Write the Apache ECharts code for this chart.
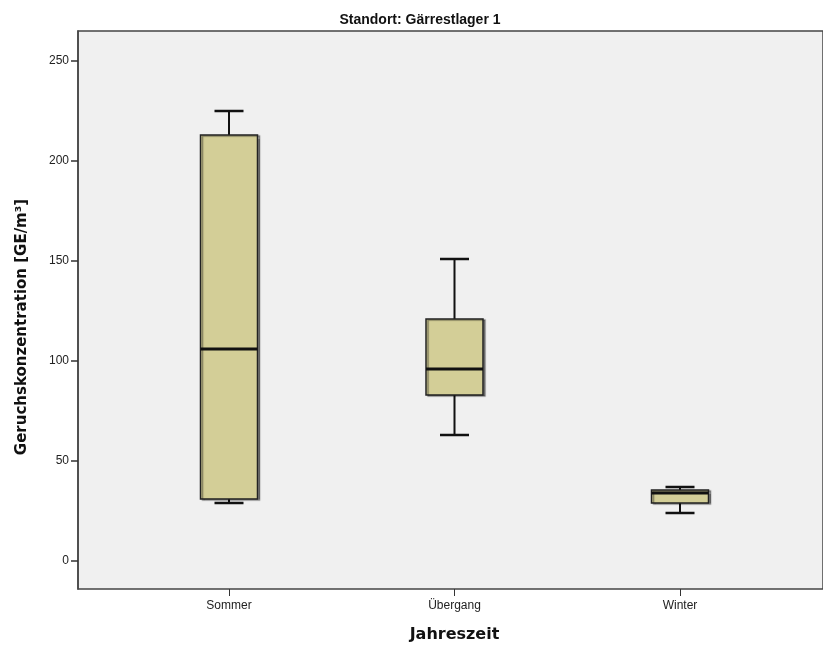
<!DOCTYPE html>
<html>
<head>
<meta charset="utf-8">
<script src="https://cdn.jsdelivr.net/npm/echarts@6/dist/echarts.min.js"></script>
<style>
  html, body { margin: 0; padding: 0; background: #ffffff; }
  #chart { width: 823px; height: 655px; }
</style>
</head>
<body>
<div id="chart"></div>
<script>
// Jahreszeiten (Kategorien)
const seasons = ['Sommer', 'Übergang', 'Winter'];
// Boxplot-Kennwerte je Jahreszeit: Minimum, Q1, Median, Q3, Maximum [GE/m³]
const sommer    = [29, 31, 106, 213, 225];
const uebergang = [63, 83, 96, 121, 151];
const winter    = [24, 29, 34, 35.5, 37];
// Beschriftete Werte der y-Achse
const yTicks = [0, 50, 100, 150, 200, 250];

const boxData = [sommer, uebergang, winter].map((d, i) => [i].concat(d));

const Y_MIN = -14, Y_MAX = 265;
const FONT = '"Liberation Sans", Arial, sans-serif';
const BOX_W = 57, CAP_W = 29;

function renderBox(params, api) {
  const i = api.value(0);
  const p = [1, 2, 3, 4, 5].map(k => api.coord([i, api.value(k)]));
  const cx = p[0][0];
  const yMin = p[0][1], yQ1 = p[1][1], yMed = p[2][1], yQ3 = p[3][1], yMax = p[4][1];
  const line = (x1, y1, x2, y2, w) => ({
    type: 'line', shape: { x1, y1, x2, y2 },
    style: { stroke: '#111', lineWidth: w }
  });
  return {
    type: 'group',
    children: [
      line(cx, yQ3, cx, yMax, 2),
      line(cx, yQ1, cx, yMin, 2),
      line(cx - CAP_W / 2, yMax, cx + CAP_W / 2, yMax, 2.5),
      line(cx - CAP_W / 2, yMin, cx + CAP_W / 2, yMin, 2.5),
      {
        type: 'rect',
        shape: { x: cx - BOX_W / 2, y: yQ3, width: BOX_W, height: yQ1 - yQ3 },
        style: {
          fill: '#d3ce97', stroke: '#222', lineWidth: 1.5,
          shadowColor: 'rgba(0,0,0,0.4)', shadowOffsetX: 2, shadowOffsetY: 1, shadowBlur: 1
        }
      },
      line(cx - BOX_W / 2, yMed, cx + BOX_W / 2, yMed, 3)
    ]
  };
}

const chart = echarts.init(document.getElementById('chart'), null, { renderer: 'canvas' });

chart.setOption({
  animation: false,
  backgroundColor: '#ffffff',
  title: {
    text: 'Standort: Gärrestlager 1',
    left: 415,
    top: 8,
    textAlign: 'center',
    textStyle: { fontFamily: FONT, fontWeight: 'bold', fontSize: 14, color: '#111' }
  },
  grid: [
    // Rahmen mit Hintergrund und y-Achse
    { left: 78, top: 31, width: 790, height: 558, show: true,
      backgroundColor: '#f0f0f0', borderColor: '#444', borderWidth: 1.5 },
    // Bereich der Kategorien
    { left: 116.25, top: 31, width: 676.5, height: 558 }
  ],
  xAxis: [
    { type: 'category', gridIndex: 0, data: [''], show: false },
    {
      type: 'category', gridIndex: 1, data: seasons,
      axisLine: { show: false, onZero: false },
      axisTick: { show: true, alignWithLabel: true, length: 7,
                  lineStyle: { color: '#333', width: 1 } },
      axisLabel: { margin: 11, fontFamily: FONT, fontSize: 12, color: '#222' },
      name: 'Jahreszeit', nameLocation: 'middle', nameGap: 38,
      nameTextStyle: { fontFamily: '"DejaVu Sans", sans-serif', fontWeight: 'bold',
                       fontSize: 16, color: '#111' }
    }
  ],
  yAxis: [
    {
      type: 'value', gridIndex: 0, min: Y_MIN, max: Y_MAX,
      splitLine: { show: false },
      axisLine: { show: true, onZero: false, lineStyle: { color: '#444', width: 1.5 } },
      axisTick: { show: true, length: 7, customValues: yTicks,
                  lineStyle: { color: '#333', width: 1.5 } },
      axisLabel: { customValues: yTicks, margin: 9, fontFamily: FONT,
                   fontSize: 12, color: '#222' },
      name: 'Geruchskonzentration [GE/m³]', nameLocation: 'middle', nameGap: 48,
      nameTextStyle: { fontFamily: '"DejaVu Sans", sans-serif', fontWeight: 'bold',
                       fontSize: 15, color: '#111', padding: [0, 34, 0, 0] }
    },
    { type: 'value', gridIndex: 1, min: Y_MIN, max: Y_MAX, show: false }
  ],
  series: [
    {
      type: 'custom',
      xAxisIndex: 1, yAxisIndex: 1,
      data: boxData,
      encode: { x: 0, y: [1, 2, 3, 4, 5] },
      renderItem: renderBox,
      clip: false,
      emphasis: { disabled: true }
    }
  ]
});
</script>
</body>
</html>
